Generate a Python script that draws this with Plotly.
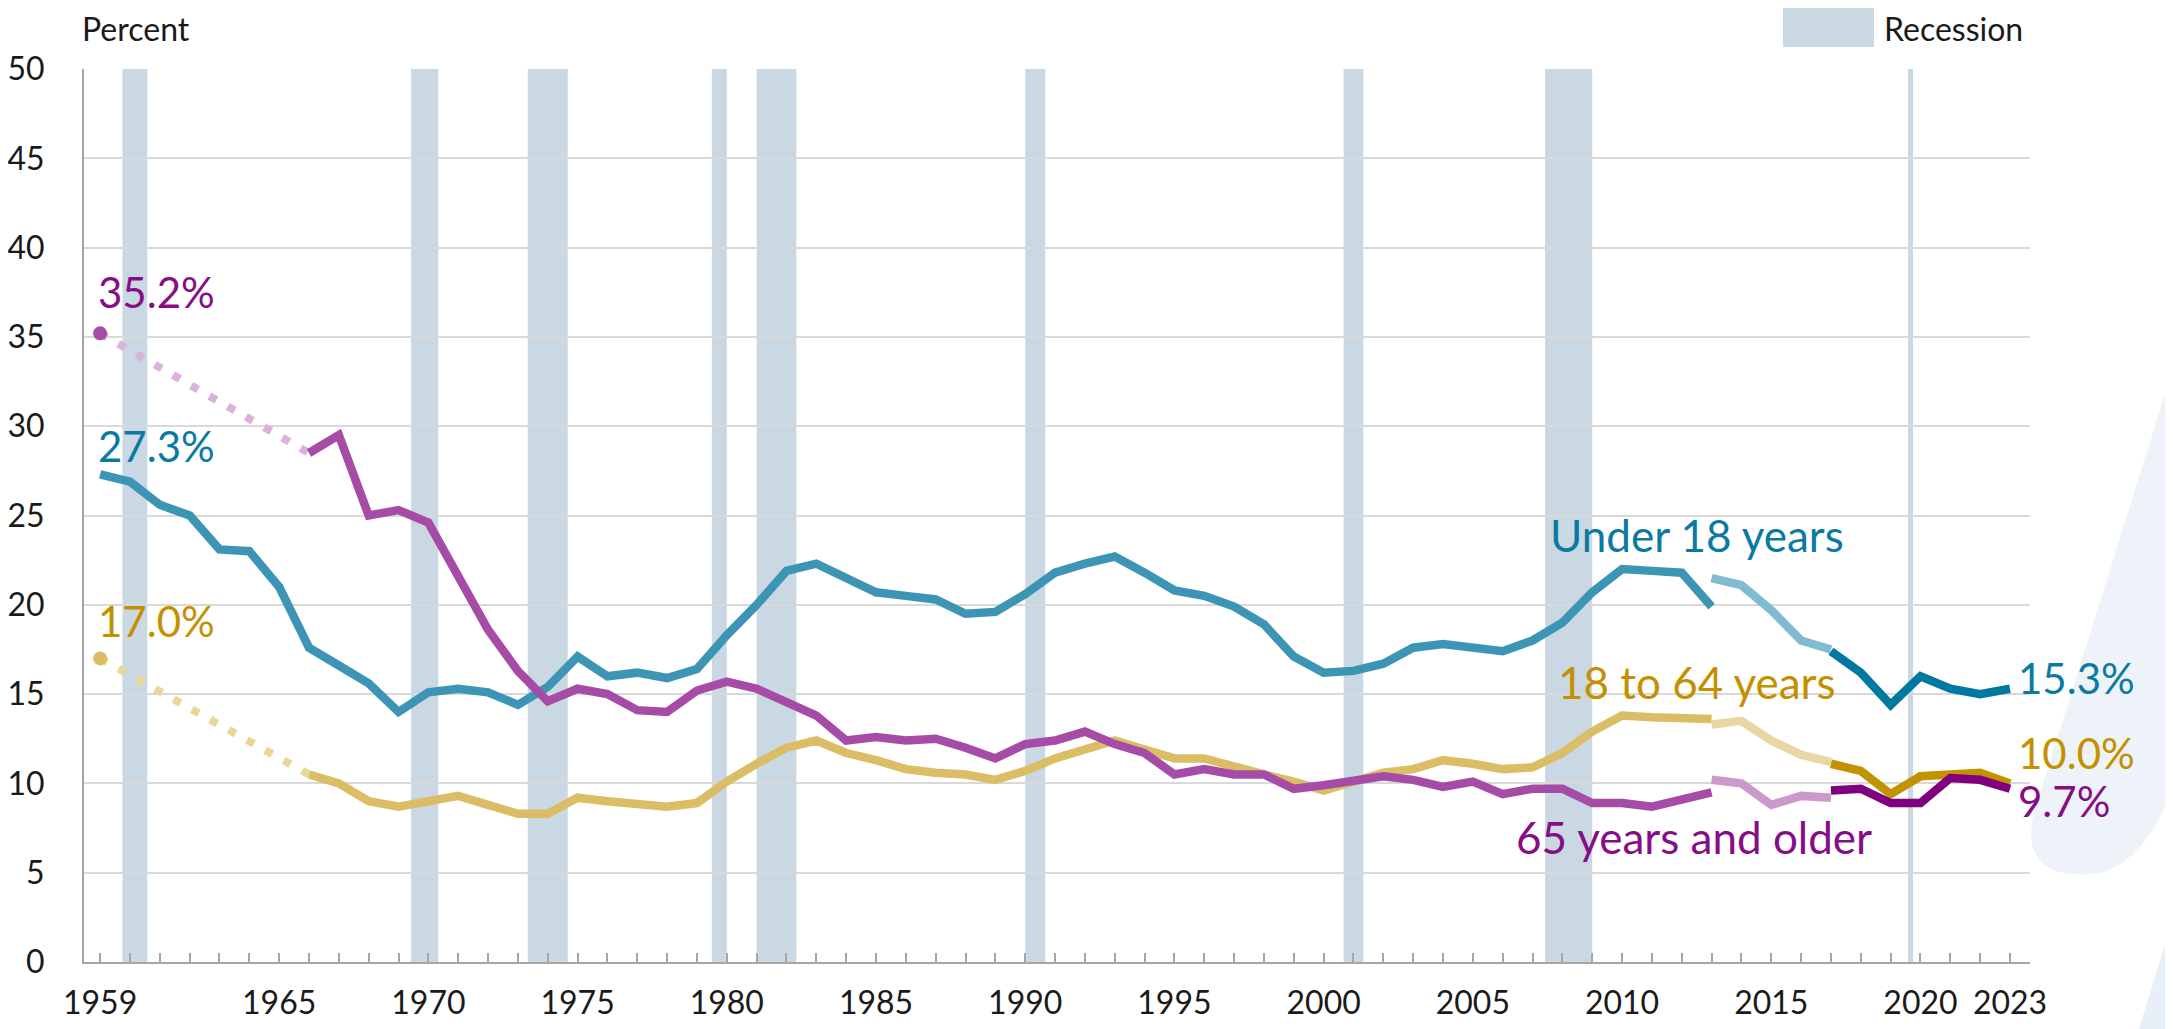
import plotly.graph_objects as go

# ---------------- data ----------------
years_main = list(range(1959, 2014))  # 1959-2013 (old method)
under18_main = [27.3, 26.9, 25.6, 25.0, 23.1, 23.0, 21.0, 17.6, 16.6, 15.6,
                14.0, 15.1, 15.3, 15.1, 14.4, 15.4, 17.1, 16.0, 16.2, 15.9,
                16.4, 18.3, 20.0, 21.9, 22.3, 21.5, 20.7, 20.5, 20.3, 19.5,
                19.6, 20.6, 21.8, 22.3, 22.7, 21.8, 20.8, 20.5, 19.9, 18.9,
                17.1, 16.2, 16.3, 16.7, 17.6, 17.8, 17.6, 17.4, 18.0, 19.0,
                20.7, 22.0, 21.9, 21.8, 19.9]

years_adult = list(range(1966, 2014))
adult_main = [10.5, 10.0, 9.0, 8.7, 9.0, 9.3, 8.8, 8.3, 8.3, 9.2,
              9.0, 8.8, 8.7, 8.9, 10.1, 11.1, 12.0, 12.4, 11.7, 11.3,
              10.8, 10.6, 10.5, 10.2, 10.7, 11.4, 11.9, 12.4, 11.9, 11.4,
              11.4, 10.9, 10.5, 10.1, 9.6, 10.1, 10.6, 10.8, 11.3, 11.1,
              10.8, 10.9, 11.7, 12.9, 13.8, 13.7, 13.7, 13.6]
senior_main = [28.5, 29.5, 25.0, 25.3, 24.6, 21.6, 18.6, 16.3, 14.6, 15.3,
               15.0, 14.1, 14.0, 15.2, 15.7, 15.3, 14.6, 13.8, 12.4, 12.6,
               12.4, 12.5, 12.0, 11.4, 12.2, 12.4, 12.9, 12.2, 11.7, 10.5,
               10.8, 10.5, 10.5, 9.7, 9.9, 10.1, 10.4, 10.2, 9.8, 10.1,
               9.4, 9.7, 9.7, 8.9, 8.9, 8.7, 9.1, 9.5]

years_mid = list(range(2013, 2018))   # 2013-2017 (redesigned questions)
under18_mid = [21.5, 21.1, 19.7, 18.0, 17.5]
adult_mid = [13.3, 13.5, 12.4, 11.6, 11.2]
senior_mid = [10.2, 10.0, 8.8, 9.3, 9.2]

years_new = list(range(2017, 2024))   # 2017-2023 (updated processing)
under18_new = [17.4, 16.2, 14.4, 16.0, 15.3, 15.0, 15.3]
adult_new = [11.1, 10.7, 9.4, 10.4, 10.5, 10.6, 10.0]
senior_new = [9.6, 9.7, 8.9, 8.9, 10.3, 10.2, 9.7]

# 1959 values (no data 1960-1965 for 18-64 and 65+)
gap_years = [1959, 1966]
adult_gap = [17.0, 10.5]
senior_gap = [35.2, 28.5]

# recessions (decimal years, start/end)
recessions = [(1960.25, 1961.08), (1969.92, 1970.83), (1973.83, 1975.17),
              (1980.0, 1980.5), (1981.5, 1982.83), (1990.5, 1991.17),
              (2001.17, 2001.83), (2007.92, 2009.5), (2020.08, 2020.25)]

tick_years = [1959, 1965, 1970, 1975, 1980, 1985, 1990, 1995, 2000, 2005,
              2010, 2015, 2020, 2023]

# ---------------- style ----------------
FONT = "Lato"
C_U18 = ("#3d95b5", "#80bbd1", "#0079a0", "#0b7aa2")   # mid, light, dark, label
C_ADL = ("#dbbd66", "#e8d7a3", "#c39200", "#c49000")
C_SEN = ("#a64ca6", "#cc99cc", "#800080", "#870d87")
LW = 8.5

# the page body has an 8px default margin: size the figure to fill the window
OFF = 8
FW, FH = 2173 - OFF, 1029 - OFF
L, R, T, B = 76, 143, 61, 67
W = FW - L - R
H = FH - T - B

def px(X):   # page x -> paper x
    return (X - OFF - L) / W

def py(Y):   # page y -> paper y
    return (FH - B - (Y - OFF)) / H

fig = go.Figure()

def seg(x, y, color, dash=None, width=LW):
    fig.add_trace(go.Scatter(
        x=x, y=y, mode="lines",
        line=dict(color=color, width=width, dash=dash),
        hoverinfo="skip", showlegend=False))

# dotted connectors
seg(gap_years, senior_gap, "#dcb2dc", dash="8px,13px", width=8)
seg(gap_years, adult_gap, "#e9d698", dash="8px,13px", width=8)

# solid segments
seg(years_main, under18_main, C_U18[0])
seg(years_adult, adult_main, C_ADL[0])
seg(years_adult, senior_main, C_SEN[0])
seg(years_mid, under18_mid, C_U18[1])
seg(years_mid, adult_mid, C_ADL[1])
seg(years_mid, senior_mid, C_SEN[1])
seg(years_new, under18_new, C_U18[2])
seg(years_new, adult_new, C_ADL[2])
seg(years_new, senior_new, C_SEN[2])

# start dots
fig.add_trace(go.Scatter(x=[gap_years[0]], y=[senior_gap[0]], mode="markers",
                         marker=dict(color=C_SEN[0], size=14),
                         hoverinfo="skip", showlegend=False))
fig.add_trace(go.Scatter(x=[gap_years[0]], y=[adult_gap[0]], mode="markers",
                         marker=dict(color=C_ADL[0], size=14),
                         hoverinfo="skip", showlegend=False))

# recession bands (aligned to year-centered categories)
for s, e in recessions:
    fig.add_shape(type="rect", xref="x", yref="y", x0=s - 0.5, x1=e - 0.5,
                  y0=0, y1=50, fillcolor="rgba(178,200,213,0.7)",
                  line=dict(width=0), layer="below")

# decorative background shapes (faint, right margin)
def P(X, Y):
    return f"{px(X):.4f},{py(Y):.4f}"

fig.add_shape(type="path", xref="paper", yref="paper",
              path=(f"M {P(2185, 330)} L {P(2034, 812)} "
                    f"Q {P(2018, 880)} {P(2093, 874)} "
                    f"Q {P(2150, 868)} {P(2185, 755)} Z"),
              fillcolor="#eef3f9", line=dict(width=0), layer="below")
fig.add_shape(type="path", xref="paper", yref="paper",
              path=f"M {P(2185, 880)} L {P(2137, 1035)} L {P(2185, 1035)} Z",
              fillcolor="#e8eff8", line=dict(width=0), layer="below")

# legend key
fig.add_shape(type="rect", xref="paper", yref="paper",
              x0=px(1783), x1=px(1874), y0=py(47), y1=py(8),
              fillcolor="#c9d8e1", line=dict(width=0))
fig.add_annotation(xref="paper", yref="paper", x=px(1883),
                   y=py(8), text="Recession", showarrow=False,
                   xanchor="left", yanchor="top", borderpad=0,
                   font=dict(family=FONT, size=32, color="#1a1a1a"))
fig.add_annotation(xref="paper", yref="paper", x=px(81),
                   y=py(8), text="Percent", showarrow=False,
                   xanchor="left", yanchor="top", borderpad=0,
                   font=dict(family=FONT, size=32, color="#1a1a1a"))

def label(x, y, text, color, xanchor="left", size=44):
    fig.add_annotation(x=x, y=y, text=text, showarrow=False, xanchor=xanchor,
                       yanchor="middle",
                       font=dict(family=FONT, size=size, color=color))

label(1958.85, 37.5, "35.2%", C_SEN[3], size=42)
label(1958.85, 28.9, "27.3%", C_U18[3], size=42)
label(1958.85, 19.1, "17.0%", C_ADL[3], size=42)
label(2012.5, 23.9, "Under 18 years", C_U18[3], "center")
label(2012.5, 15.7, "18 to 64 years", C_ADL[3], "center")
label(2012.4, 7.0, "65 years and older", C_SEN[3], "center")
label(2023.2, 15.9, "15.3%", C_U18[3], size=42)
label(2023.2, 11.7, "10.0%", C_ADL[3], size=42)
label(2023.2, 9.0, "9.7%", C_SEN[3], size=42)

fig.update_layout(
    width=FW, height=FH,
    margin=dict(l=L, r=R, t=T, b=B),
    paper_bgcolor="white", plot_bgcolor="white",
    font=dict(family=FONT, size=32, color="#1a1a1a"),
    xaxis=dict(range=[1958.46, 2023.67], tickmode="array", tickvals=tick_years,
               ticktext=[str(t) for t in tick_years],
               showgrid=False, zeroline=False, automargin=False,
               showline=True, linecolor="#a6a6a6", linewidth=2,
               ticks="inside", ticklen=9, tickcolor="#a6a6a6", tickwidth=1.5,
               minor=dict(dtick=1, tick0=1959, ticks="inside", ticklen=9,
                          tickcolor="#a6a6a6", tickwidth=1.5, showgrid=False),
               tickfont=dict(family=FONT, size=32, color="#1a1a1a"),
               ticklabelstandoff=12, fixedrange=True),
    yaxis=dict(range=[0, 50], tickvals=list(range(0, 51, 5)),
               showgrid=True, gridcolor="#d9d9d9", gridwidth=2,
               zeroline=False, showline=True, linecolor="#a6a6a6", linewidth=2,
               automargin=False,
               ticks="", tickfont=dict(family=FONT, size=32, color="#1a1a1a"),
               ticklabelstandoff=31, fixedrange=True),
)

fig.write_html("out.html")
